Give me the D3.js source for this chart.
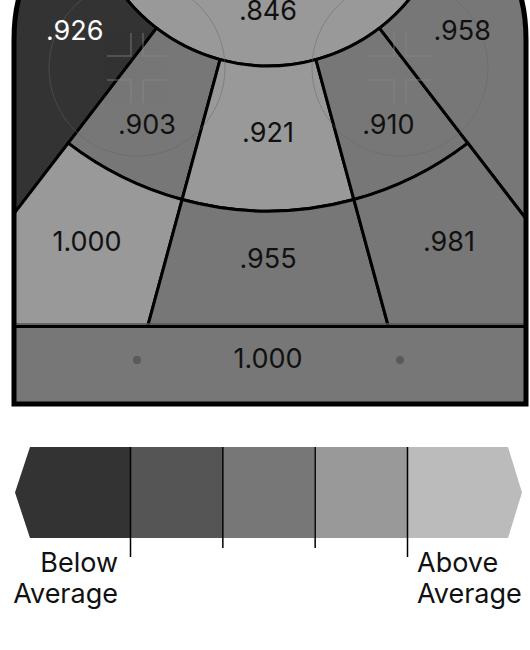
<!DOCTYPE html>
<html><head><meta charset="utf-8">
<script src="https://cdn.jsdelivr.net/npm/d3@7"></script>
<style>body{margin:0;background:#fff}svg{display:block}text{font-family:Inter,"Noto Sans",sans-serif}</style>
</head><body>
<svg id="c" width="530" height="650"></svg>
<script>
// zone values (save %) and shade level 0 = below avg .. 4 = above avg
const zones = ['slot', 'leftPoint', 'leftCircle', 'highSlot', 'rightCircle', 'rightPoint', 'leftBlue', 'centerBlue', 'rightBlue'];
const values = ['.846', '.926', '.903', '.921', '.910', '.958', '1.000', '.955', '.981'];
const levels = [3, 0, 2, 3, 2, 2, 3, 2, 2];
const neutralValue = '1.000', neutralLevel = 2;
const legendLevels = [0, 1, 2, 3, 4];
const legendLabels = [['Below', 'Average'], ['Above', 'Average']];
const shades = ['#333333', '#555555', '#777777', '#999999', '#bbbbbb'];

const svg = d3.select('#c');
const cx = 268, cy = -117;
const P = Math.PI, aIn = 0.265, aOut = 0.655, r1 = 183, r2 = 328, rMax = 1000;
// polar geometry: [startAngle, endAngle, inner, outer, labelAngle, labelR]
const geom = [
  [P - 2, P + 2, 0, r1, P, 127],
  [P + aOut, P + 2, r1, rMax, P + 0.92, 243],
  [P + aIn, P + aOut, r1, r2, P + 0.465, 270],
  [P - aIn, P + aIn, r1, r2, P, 249],
  [P - aOut, P - aIn, r1, r2, P - 0.462, 270],
  [P - 2, P - aOut, r1, rMax, P - 0.92, 244],
  [P + aIn, P + aOut, r2, rMax, P + 0.467, 402],
  [P - aIn, P + aIn, r2, rMax, P, 375],
  [P - aOut, P - aIn, r2, rMax, P - 0.467, 402]
];

const left = 15, right = 525, blue = 325, bottom = 403;
svg.append('clipPath').attr('id', 'rink').append('path')
  .attr('d', `M${left},${blue} L${left},40 Q${left},-60 100,-60 L440,-60 Q${right},-60 ${right},40 L${right},${blue} Z`);

const g = svg.append('g').attr('clip-path', 'url(#rink)');
const arc = d3.arc();
zones.forEach((z, i) => {
  const [a0, a1, ri, ro] = geom[i];
  g.append('path')
    .attr('transform', `translate(${cx},${cy})`)
    .attr('d', arc({startAngle: a0, endAngle: a1, innerRadius: ri, outerRadius: ro}))
    .attr('fill', shades[levels[i]]).attr('stroke', '#000').attr('stroke-width', 3);
});

// faceoff circles and hash marks
[137, 400].forEach(fx => {
  const fy = 68;
  g.append('circle').attr('cx', fx).attr('cy', fy).attr('r', 88)
    .attr('fill', 'none').attr('stroke', '#666').attr('stroke-width', 0.8).attr('opacity', 0.6);
  const h = g.append('g').attr('stroke', '#888').attr('stroke-width', 1.5).attr('fill', 'none').attr('opacity', 0.5);
  [[-1, -1], [1, -1], [-1, 1], [1, 1]].forEach(([sx, sy]) => {
    h.append('path').attr('d', `M${fx + sx * 6},${fy + sy * 35} L${fx + sx * 6},${fy + sy * 12} L${fx + sx * 30},${fy + sy * 12}`);
  });
});

zones.forEach((z, i) => {
  const la = geom[i][4], lr = geom[i][5];
  g.append('text')
    .attr('x', cx + lr * Math.sin(la)).attr('y', cy - lr * Math.cos(la))
    .attr('text-anchor', 'middle').attr('dominant-baseline', 'central')
    .attr('font-size', 27).attr('fill', levels[i] <= 1 ? '#fff' : '#111').text(values[i]);
});

// neutral zone strip
svg.append('rect').attr('x', left).attr('y', blue).attr('width', right - left).attr('height', bottom - blue)
  .attr('fill', shades[neutralLevel]);
svg.append('line').attr('x1', left).attr('x2', right).attr('y1', blue - 1).attr('y2', blue - 1).attr('stroke', '#555').attr('stroke-width', 1.5);
svg.append('line').attr('x1', left).attr('x2', right).attr('y1', blue + 1.5).attr('y2', blue + 1.5).attr('stroke', '#000').attr('stroke-width', 3);
[137, 400].forEach(dx => svg.append('circle').attr('cx', dx).attr('cy', 360).attr('r', 4).attr('fill', '#5a5a5a'));
svg.append('text').attr('x', cx).attr('y', 358).attr('text-anchor', 'middle').attr('dominant-baseline', 'central')
  .attr('font-size', 27).attr('fill', '#111').text(neutralValue);

// rink border
svg.append('path')
  .attr('d', `M${left - 1},${bottom + 1} L${left - 1},40 Q${left - 1},-60 100,-60 L440,-60 Q${right + 1},-60 ${right + 1},40 L${right + 1},${bottom + 1} Z`)
  .attr('fill', 'none').attr('stroke', '#000').attr('stroke-width', 5);

// legend
const ly0 = 447, ly1 = 538, lm = (ly0 + ly1) / 2;
const xs = d3.scaleLinear().domain([1, 4]).range([130, 407]);
const lg = svg.append('g');
legendLevels.forEach((lv, i) => {
  let d;
  if (i === 0) d = `M${xs(1)},${ly0} L30,${ly0} L15,${lm} L30,${ly1} L${xs(1)},${ly1} Z`;
  else if (i === legendLevels.length - 1) d = `M${xs(4)},${ly0} L508,${ly0} L522,${lm} L508,${ly1} L${xs(4)},${ly1} Z`;
  else d = `M${xs(i)},${ly0} L${xs(i + 1)},${ly0} L${xs(i + 1)},${ly1} L${xs(i)},${ly1} Z`;
  lg.append('path').attr('d', d).attr('fill', shades[lv]);
});
[1, 2, 3, 4].forEach(t => {
  lg.append('line').attr('x1', xs(t) + 0.5).attr('x2', xs(t) + 0.5).attr('y1', ly0)
    .attr('y2', (t === 1 || t === 4) ? 557 : 548).attr('stroke', '#000').attr('stroke-width', 1.5);
});
[[118, 'end'], [417, 'start']].forEach(([x, anchor], i) => {
  const t = lg.append('text').attr('x', x).attr('y', 562).attr('text-anchor', anchor).attr('font-size', 27).attr('fill', '#111');
  legendLabels[i].forEach((s, j) => t.append('tspan').attr('x', x).attr('dy', j ? 31 : 0).attr('dominant-baseline', 'central').text(s));
});
</script>
</body></html>
